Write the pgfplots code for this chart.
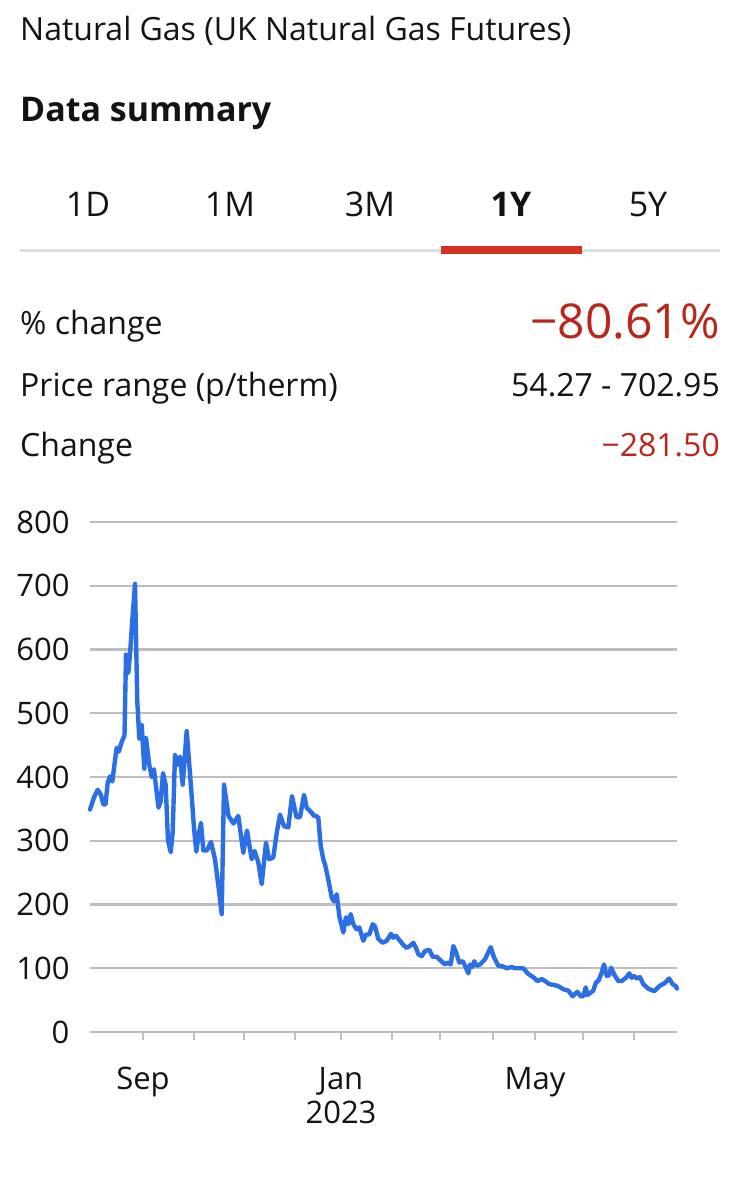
\documentclass[border=0pt]{standalone}
\usepackage{fontspec}
\setmainfont{Open Sans}
\usepackage{pgfplots}
\usepackage{pgfplotstable}
\pgfplotsset{compat=1.18}
\definecolor{txt}{RGB}{20,20,20}
\definecolor{gridgray}{RGB}{190,190,190}
\definecolor{sepgray}{RGB}{222,222,222}
\definecolor{darkred}{RGB}{184,38,28}
\definecolor{barred}{RGB}{212,48,36}
\definecolor{lineblue}{RGB}{44,110,228}

% x = horizontal position along the 1-year axis (pixel-like units), y = price in p/therm
\pgfplotstableread{
x y
90 349
94 368
97.7 380
101 372
103.3 357
105.5 357
107.7 391
110 401
112.3 393
114.5 420
116.7 446
119 440
121 452
123.3 461
124.5 465
126 592
128.3 563
130 592
132.5 650
135 703
137.3 518
139.3 460
141.7 482
144.3 413
146 461
149.3 419
151.7 400
154 412
156 385
158.5 352
160.7 362
163 406
165.7 387
168 300
170.8 282
172.7 314
175 435
177.7 419
180 432
182.7 388
186.7 472
191 385
194 320
196.3 283
199 313
201 328
203.3 285
207 285
211 298
215 271
218.5 228
221.7 185
224 388
228.5 339
233.5 327
238.3 339
243.3 281
247 316
251.7 271
254.5 284
258.3 266
261.7 232
266 297
269 271
273.3 274
276.7 312
280 341
284 323
288.3 321
292 370
296.5 337
300 337
304 372
306.7 352
311.7 344
314 339
316 339
318.3 336
320.7 292
323.3 271
325 263
328.3 239
331.7 211
334 205
336.7 216
339.3 182
343.3 156
346 180
348.3 169
350.7 185
353.3 169
356.7 161
359.3 164
363.3 143
366 153
369.3 153
372.7 169
375 166
378.3 146
382.7 140
386.7 143
391 154
393.3 148
396 151
400 143
404.3 135
406.7 132
410 135
413.3 140
416 132
418.3 122
421.7 119
425 127
429.3 129
432.7 118
436.7 118
440.7 112
445 106
447.7 109
450.7 106
453.3 135
456 125
459.3 109
462.7 111
465 104
468.3 92
470 106
472.3 102
474.3 111
476.7 104
480 106
485 114
490.7 133
494 117
498.3 104
502.7 103
506.7 100
511.7 102
515 100
523.3 100
528.3 91
533.3 86
537.3 80
541.7 83
546 79
549.3 75
553.3 74
558.3 72
563.3 67
568.3 65
572.7 56
577.3 63
580.7 56
583.3 56
585.7 70
587.3 58
591.7 63
593.3 65
596 78
598.3 80
601.7 93
604 106
606.7 88
609.3 89
611 101
615 88
618.3 80
621.7 80
626 85
629.3 92
631.7 85
634.3 88
636.7 84
640 86
643.3 75
648.3 68
654.3 64
659.3 72
665 77
669 84
672.7 75
675.7 72
677 68
}\gasdata

\begin{document}
\begin{tikzpicture}[x=1pt,y=1pt]
\useasboundingbox[fill=white] (0,0) rectangle (741,1200);

% header
\node[anchor=base west, inner sep=0, text=txt, font=\fontsize{32}{38}\selectfont] at (20,1159) {Natural Gas (UK Natural Gas Futures)};
\node[anchor=base west, inner sep=0, text=txt, font=\fontsize{34}{40}\selectfont\bfseries] at (20,1078) {Data summary};

% tabs
\foreach \lab/\cx in {1D/88,1M/230,3M/370,5Y/648}
  \node[anchor=base, inner sep=0, text=txt, font=\fontsize{34}{40}\selectfont] at (\cx,983) {\lab};
\node[anchor=base, inner sep=0, text=txt, font=\fontsize{34}{40}\selectfont\bfseries] at (511,983) {1Y};
\fill[sepgray] (20,948) rectangle (720,950.5);
\fill[barred] (441,946) rectangle (582,954);

% summary rows
\node[anchor=base west, inner sep=0, text=txt, font=\fontsize{32}{38}\selectfont] at (20,865) {\% change};
\node[anchor=base east, inner sep=0, text=darkred, font=\fontsize{48}{56}\selectfont] at (720,861) {−80.61\%};
\node[anchor=base west, inner sep=0, text=txt, font=\fontsize{32}{38}\selectfont] at (20,803) {Price range (p/therm)};
\node[anchor=base east, inner sep=0, text=txt, font=\fontsize{32}{38}\selectfont] at (720,803) {54.27 - 702.95};
\node[anchor=base west, inner sep=0, text=txt, font=\fontsize{32}{38}\selectfont] at (20,743) {Change};
\node[anchor=base east, inner sep=0, text=darkred, font=\fontsize{32}{38}\selectfont] at (720,743) {−281.50};

\begin{axis}[
  at={(90pt,168pt)}, anchor=south west,
  scale only axis, width=587pt, height=510pt,
  xmin=90, xmax=677, ymin=0, ymax=800,
  axis line style={draw=none},
  ytick={0,100,...,800},
  ymajorgrids, grid style={gridgray, line width=2.2pt},
  ytick style={draw=none},
  yticklabel style={font=\fontsize{31}{36}\selectfont, text=txt, xshift=-9pt},
  /pgf/number format/assume math mode=true,
  xtick={143,194,244,295,341,392,440,493,535,583,634},
  xticklabels={Sep,,,,{Jan\\2023},,,,May,,},
  xtick pos=bottom, tick align=outside,
  major tick length=8pt,
  xtick style={gridgray, line width=2pt},
  xticklabel style={font=\fontsize{31}{34}\selectfont, text=txt, align=center, anchor=north, yshift=-24pt},
  clip=false,
]
\addplot[lineblue, line width=4.4pt, line join=round, line cap=round] table[x=x,y=y] {\gasdata};
\end{axis}
\end{tikzpicture}
\end{document}
